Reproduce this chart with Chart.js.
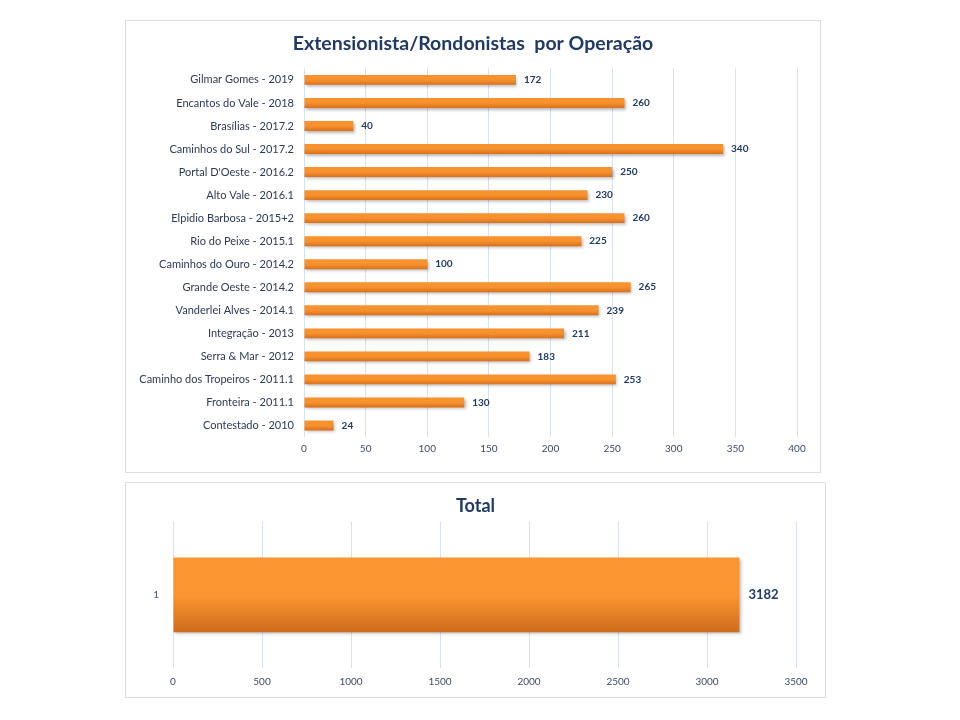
<!DOCTYPE html>
<html><head><meta charset="utf-8">
<script src="https://cdn.jsdelivr.net/npm/chart.js@4"></script>
<style>
html,body{margin:0;padding:0;background:#fff;width:960px;height:720px;overflow:hidden}
.box{position:absolute;border:1px solid #d9dee6;box-sizing:border-box;background:#fff}
#b1{left:125px;top:20px;width:696px;height:453px}
#b2{left:125px;top:482px;width:701px;height:216px}
canvas{display:block}
</style></head><body>
<div class="box" id="b1"><canvas id="c1"></canvas></div>
<div class="box" id="b2"><canvas id="c2"></canvas></div>
<script>
const operacoes = ["Gilmar Gomes - 2019","Encantos do Vale - 2018","Brasílias - 2017.2","Caminhos do Sul - 2017.2","Portal D'Oeste - 2016.2","Alto Vale - 2016.1","Elpidio Barbosa - 2015+2","Rio do Peixe - 2015.1","Caminhos do Ouro - 2014.2","Grande Oeste - 2014.2","Vanderlei Alves - 2014.1","Integração - 2013","Serra & Mar - 2012","Caminho dos Tropeiros - 2011.1","Fronteira - 2011.1","Contestado - 2010"];
const participantes = [172,260,40,340,250,230,260,225,100,265,239,211,183,253,130,24];
const totalLabels = ["1"];
const totalValues = [3182];

const FONT = "Lato, 'Open Sans', sans-serif";

function grad(top, bot){
  return function(ctx){
    const ch = ctx.chart;
    const ys = ch.scales.y;
    if(!ys || ctx.dataIndex === undefined) return top;
    const n = ch.data.labels.length;
    const ds = ch.data.datasets[0];
    const band = ys.height / n;
    const h = band * ds.categoryPercentage * ds.barPercentage;
    const c = ys.getPixelForValue(ctx.dataIndex);
    if(!isFinite(c)) return top;
    const g = ch.ctx.createLinearGradient(0, c - h/2, 0, c + h/2);
    g.addColorStop(0, top);
    g.addColorStop(0.5, top);
    g.addColorStop(1, bot);
    return g;
  };
}

const centerTitle = {
  id:'centerTitle',
  afterLayout(chart){ if(chart.titleBlock){ chart.titleBlock.left = 0; chart.titleBlock.right = chart.width; } }
};
const shadowPlugin = {
  id:'shadow',
  beforeDatasetDraw(chart){ const c=chart.ctx; c.save(); c.shadowColor='rgba(0,0,0,0.28)'; c.shadowBlur=3; c.shadowOffsetX=1.5; c.shadowOffsetY=2; },
  afterDatasetDraw(chart){ chart.ctx.restore(); }
};
const valuePlugin = {
  id:'vals',
  afterDatasetsDraw(chart, args, opts){
    const c = chart.ctx;
    const meta = chart.getDatasetMeta(0);
    c.save();
    c.font = opts.font;
    c.fillStyle = opts.color;
    c.textBaseline = 'middle';
    c.textAlign = 'left';
    meta.data.forEach((el,i)=>{
      c.fillText(String(chart.data.datasets[0].data[i]), el.x + opts.offset, el.y);
    });
    c.restore();
  }
};

new Chart(document.getElementById('c1'), {
  type:'bar',
  data:{labels:operacoes, datasets:[{data:participantes, backgroundColor:grad('#f7922e','#d8701c'), categoryPercentage:0.86, barPercentage:0.5}]},
  plugins:[centerTitle, shadowPlugin, valuePlugin],
  options:{
    indexAxis:'y', responsive:true, maintainAspectRatio:false, animation:false,
    layout:{padding:{left:0,right:23,top:0,bottom:0}},
    plugins:{
      legend:{display:false}, tooltip:{enabled:false},
      title:{display:true, text:'Extensionista/Rondonistas  por Operação', color:'#1f3a64', font:{family:FONT, size:19.5, weight:'bold'}, padding:{top:11,bottom:13}},
      vals:{font:"bold 10px "+FONT, color:'#1f3a64', offset:8}
    },
    scales:{
      x:{min:0,max:400, ticks:{stepSize:50, color:'#3b4a63', font:{family:FONT,size:10}, padding:6},
         grid:{color:'#d8e0ec', drawTicks:false}, border:{display:false},
         afterFit(s){ s.height = 35; }},
      y:{ticks:{color:'#2c3a55', font:{family:FONT,size:11}, padding:10, autoSkip:false},
         grid:{display:false, drawTicks:false}, border:{display:false},
         afterFit(s){ s.width = 178; }}
    }
  }
});

new Chart(document.getElementById('c2'), {
  type:'bar',
  data:{labels:totalLabels, datasets:[{data:totalValues, backgroundColor:grad('#fb952f','#cf6c1e'), categoryPercentage:1.0, barPercentage:0.51}]},
  plugins:[centerTitle, shadowPlugin, valuePlugin],
  options:{
    indexAxis:'y', responsive:true, maintainAspectRatio:false, animation:false,
    layout:{padding:{left:0,right:29,top:0,bottom:0}},
    plugins:{
      legend:{display:false}, tooltip:{enabled:false},
      title:{display:true, text:'Total', color:'#1f3a64', font:{family:FONT, size:18, weight:'bold'}, padding:{top:12,bottom:5}},
      vals:{font:"bold 13px "+FONT, color:'#1f3a64', offset:9}
    },
    scales:{
      x:{min:0,max:3500, ticks:{stepSize:500, color:'#3b4a63', font:{family:FONT,size:10}, padding:8, callback:(v)=>String(v)},
         grid:{color:'#d8e0ec', drawTicks:false}, border:{display:false},
         afterFit(s){ s.height = 29; }},
      y:{ticks:{color:'#4a5568', font:{family:FONT,size:10}, padding:14},
         grid:{display:false, drawTicks:false}, border:{display:false},
         afterFit(s){ s.width = 47; }}
    }
  }
});
</script>
</body></html>
